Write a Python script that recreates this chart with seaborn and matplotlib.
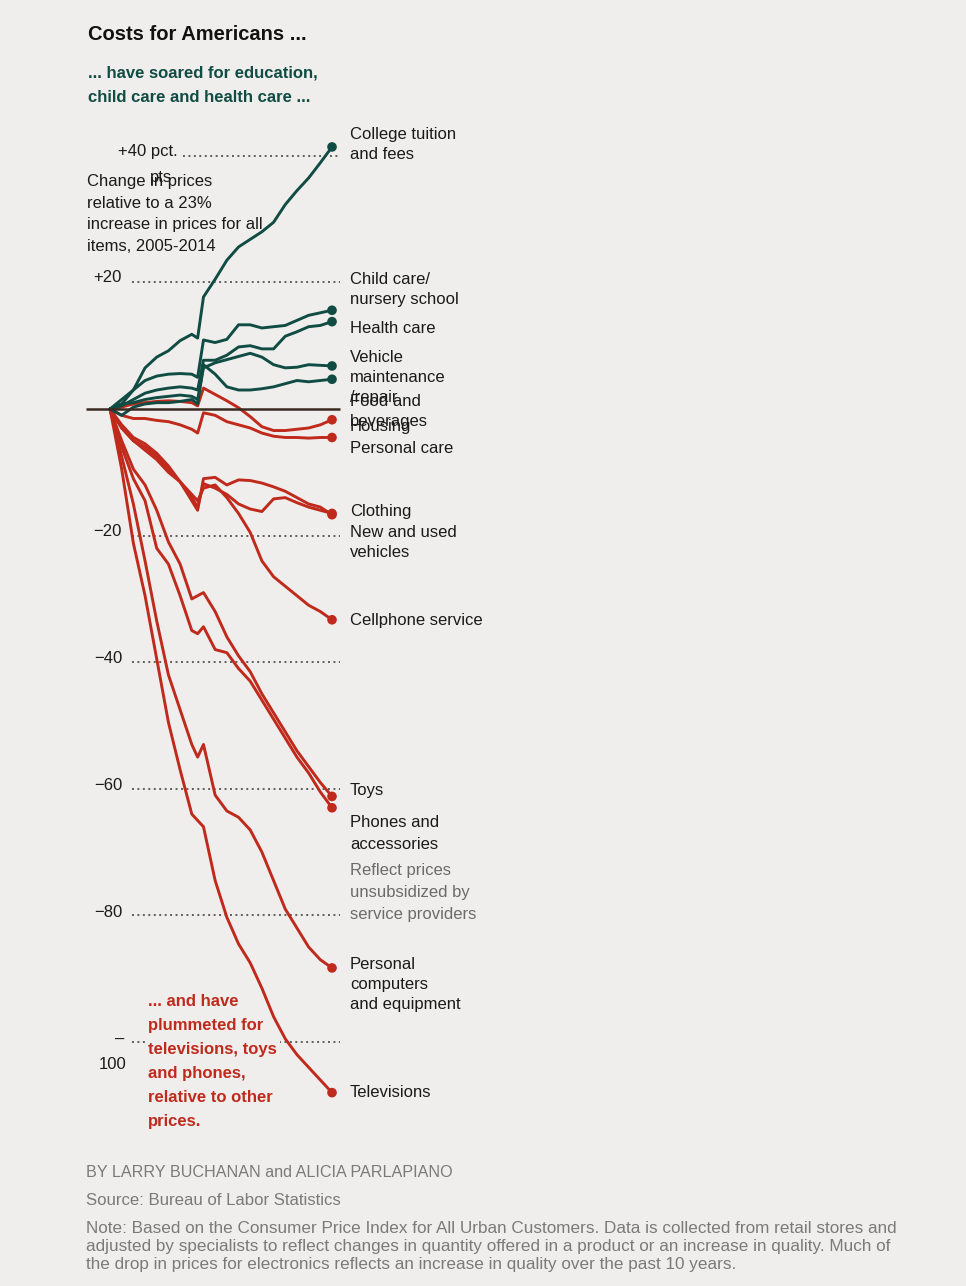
import numpy as np
import pandas as pd
import matplotlib
matplotlib.use("Agg")
import matplotlib.pyplot as plt
import seaborn as sns

# half-year readings (plus one extra point at the late-2008 jump)
years = [2005.0, 2005.5, 2006.0, 2006.5, 2007.0, 2007.5, 2008.0, 2008.5, 2008.75,
         2009.0, 2009.5, 2010.0, 2010.5, 2011.0, 2011.5, 2012.0, 2012.5, 2013.0,
         2013.5, 2014.0, 2014.5]

# change in prices relative to all items, pct. pts
college = [0, 0.8, 3.0, 6.5, 8.2, 9.2, 10.8, 11.8, 11.2, 17.7, 20.5, 23.5, 25.6, 26.8,
           28.0, 29.5, 32.3, 34.5, 36.5, 38.9, 41.4]
child_care = [0, 1.5, 3.0, 4.5, 5.2, 5.5, 5.6, 5.5, 5.0, 10.9, 10.5, 11.0, 13.3, 13.3,
              12.8, 13.0, 13.2, 14.0, 14.8, 15.2, 15.6]
health_care = [0, 0.5, 1.5, 2.5, 3.0, 3.3, 3.5, 3.3, 3.0, 7.7, 7.7, 8.5, 9.8, 10.0,
               9.5, 9.5, 11.5, 12.2, 13.0, 13.2, 13.8]
vehicle_maint = [0, 0.8, 1.0, 1.5, 1.8, 2.0, 2.2, 2.0, 1.5, 6.5, 7.3, 7.8, 8.3, 8.8,
                 8.2, 7.0, 6.5, 6.6, 7.0, 6.9, 6.8]
food = [0, -1.0, 0.3, 0.8, 1.0, 1.0, 1.2, 1.5, 0.8, 7.0, 5.5, 3.5, 3.0, 3.0,
        3.2, 3.5, 4.0, 4.5, 4.3, 4.5, 4.7]
housing = [0, 0.3, 0.8, 1.0, 1.2, 1.3, 1.2, 1.0, 0.5, 3.3, 2.3, 1.3, 0.2, -1.2,
           -2.8, -3.4, -3.4, -3.2, -3.0, -2.5, -1.7]
personal_care = [0, -1.0, -1.5, -1.5, -1.8, -2.0, -2.5, -3.2, -3.8, -0.6, -1.0, -2.0,
                 -2.5, -3.0, -3.8, -4.3, -4.5, -4.5, -4.6, -4.5, -4.5]
clothing = [0, -2.5, -4.5, -5.5, -7.0, -9.0, -11.5, -14.5, -16.0, -11.0, -10.8, -12.0,
            -11.2, -11.3, -11.7, -12.3, -13.0, -14.0, -15.0, -15.5, -16.7]
new_used_vehicles = [0, -3.0, -5.0, -6.0, -7.5, -9.5, -11.5, -14.0, -15.5, -11.8, -12.5,
                     -13.5, -15.0, -15.8, -16.2, -14.2, -14.0, -14.8, -15.5, -16.0, -16.5]
cellphone = [0, -3.0, -5.0, -6.5, -8.0, -10.0, -11.5, -13.5, -14.5, -12.5, -12.0, -14.0,
             -16.5, -19.5, -24.0, -26.5, -28.0, -29.5, -31.0, -32.0, -33.3]
toys = [0, -5.0, -9.5, -12.0, -16.0, -21.0, -24.5, -30.0, -29.5, -29.0, -32.0, -36.0,
        -39.0, -41.5, -45.0, -48.0, -51.0, -54.0, -56.5, -59.0, -61.2]
phones = [0, -6.0, -11.0, -14.5, -22.0, -24.5, -29.5, -35.0, -35.5, -34.4, -38.0, -38.5,
          -41.0, -43.0, -46.0, -49.0, -52.0, -55.0, -57.5, -60.5, -63.0]
computers = [0, -7.5, -15.0, -24.0, -33.5, -42.0, -47.5, -53.0, -55.0, -53.0, -61.0,
             -63.5, -64.5, -66.5, -70.0, -74.5, -79.0, -82.0, -85.0, -87.0, -88.3]
televisions = [0, -9.5, -21.2, -29.5, -39.5, -49.5, -57.0, -64.0, -65.0, -66.0, -74.5,
               -80.3, -84.5, -87.5, -91.5, -96.0, -99.5, -102.0, -104.0, -106.0, -108.0]

series = {
    "College tuition and fees": college,
    "Child care/nursery school": child_care,
    "Health care": health_care,
    "Vehicle maintenance/repair": vehicle_maint,
    "Food and beverages": food,
    "Housing": housing,
    "Personal care": personal_care,
    "Clothing": clothing,
    "New and used vehicles": new_used_vehicles,
    "Cellphone service": cellphone,
    "Toys": toys,
    "Phones and accessories": phones,
    "Personal computers and equipment": computers,
    "Televisions": televisions,
}
rising = ["College tuition and fees", "Child care/nursery school", "Health care",
          "Vehicle maintenance/repair", "Food and beverages"]

grid_vals = [40, 20, -20, -40, -60, -80, -100]

GREEN = "#104c43"
RED = "#bf2a1c"
BG = "#efeeec"
INK = "#1a1a1a"

rows = []
for name, vals in series.items():
    for t, v in zip(years, vals):
        rows.append({"year": t, "change": v, "series": name})
df = pd.DataFrame(rows)
pal = {n: (GREEN if n in rising else RED) for n in series}

sns.set_style("white")
plt.rcParams["font.family"] = ["Liberation Sans", "DejaVu Sans"]

W, H = 966, 1286
fig = plt.figure(figsize=(W / 100, H / 100), dpi=100, facecolor=BG)
ax = fig.add_axes([0, 0, 1, 1])

# pixel layout of the plot area
PX_YEAR, X0_PX = 23.37, 110
PX_PT, Y0_PX = 6.33, 409


def xd(px):
    return 2005 + (px - X0_PX) / PX_YEAR


# dotted gridlines and zero line
for g in grid_vals:
    start = 183 if g == 40 else 132
    ax.hlines(g, xd(start), xd(340), colors="#5e5e5e", linestyles=(0, (1, 1.8)),
              lw=1.4, zorder=1)
ax.hlines(0, xd(86), xd(340), colors="#3a2b22", lw=1.8, zorder=4)

red_df = df[~df["series"].isin(rising)]
green_df = df[df["series"].isin(rising)]
for part in (red_df, green_df):
    sns.lineplot(data=part, x="year", y="change", hue="series", palette=pal,
                 estimator=None, sort=False, lw=2.1, legend=False, ax=ax, zorder=3)
last = df[df["year"] == years[-1]]
sns.scatterplot(data=last, x="year", y="change", hue="series", palette=pal, s=48,
                edgecolor="none", legend=False, ax=ax, zorder=5)
ax.set_xlim(2005 - X0_PX / PX_YEAR, 2005 + (W - X0_PX) / PX_YEAR)
ax.set_ylim((Y0_PX - H) / PX_PT, Y0_PX / PX_PT)
ax.set_facecolor(BG)
ax.axis("off")


def put(x, y, s, **kw):
    kw.setdefault("fontsize", 12)
    kw.setdefault("color", INK)
    kw.setdefault("va", "center_baseline")
    kw.setdefault("zorder", 6)
    return ax.text(x / W, 1 - y / H, s, transform=fig.transFigure, **kw)


def block(x, y, lines, step, **kw):
    out = []
    for i, s in enumerate(lines):
        out.append(put(x, y + step * i, s, **kw))
    return out


# right-hand labels: first-line y, lines, colour, line step
labels = [
    (133, ["College tuition", "and fees"], INK, 20),
    (278, ["Child care/", "nursery school"], INK, 20),
    (327, ["Health care"], INK, 20),
    (356, ["Vehicle", "maintenance", "/repair"], INK, 20),
    (400, ["Food and", "beverages"], INK, 20),
    (425, ["Housing"], INK, 20),
    (447, ["Personal care"], INK, 20),
    (510, ["Clothing"], INK, 20),
    (531, ["New and used", "vehicles"], INK, 20),
    (619, ["Cellphone service"], INK, 20),
    (789, ["Toys"], INK, 20),
    (821, ["Phones and", "accessories"], INK, 22),
    (869, ["Reflect prices", "unsubsidized by", "service providers"], "#6b6b6b", 22),
    (963, ["Personal", "computers", "and equipment"], INK, 20),
    (1091, ["Televisions"], INK, 20),
]
for y, lines, c, step in labels:
    block(350, y, lines, step, color=c)

# y tick labels
put(178, 150, "+40 pct.", ha="right")
put(161, 176, "pts", ha="center")
for g, y in zip([20, -20, -40, -60, -80], [276, 530, 657, 784, 911]):
    put(122, y, ("+%d" % g) if g > 0 else "\u2212%d" % abs(g), ha="right")
put(124, 1038, "\u2013", ha="right")
put(126, 1063, "100", ha="right")

block(87, 180, ["Change in prices", "relative to a 23%", "increase in prices for all",
                "items, 2005-2014"], 21.7)

for tx in block(148, 1000, ["... and have", "plummeted for", "televisions, toys",
                            "and phones,", "relative to other", "prices."], 24,
                color=RED, fontweight="bold", zorder=2):
    tx.set_bbox(dict(facecolor=BG, edgecolor="none", pad=2.5))

# headings
put(88, 33, "Costs for Americans ...", fontsize=14.5, fontweight="bold", color="#111111")
block(88, 72, ["... have soared for education,", "child care and health care ..."], 24,
      fontsize=12, fontweight="bold", color=GREEN)

# footer
FOOT = "#7a7a7a"
put(86, 1171, "BY LARRY BUCHANAN and ALICIA PARLAPIANO", fontsize=11.6, color=FOOT)
put(86, 1199, "Source: Bureau of Labor Statistics", fontsize=12.1, color=FOOT)
note = [
    "Note: Based on the Consumer Price Index for All Urban Customers. Data is collected from retail stores and",
    "adjusted by specialists to reflect changes in quantity offered in a product or an increase in quality. Much of",
    "the drop in prices for electronics reflects an increase in quality over the past 10 years.",
]
block(86, 1227, note, 18, fontsize=12.3, color=FOOT)

fig.savefig("out.png", dpi=100, facecolor=BG)
